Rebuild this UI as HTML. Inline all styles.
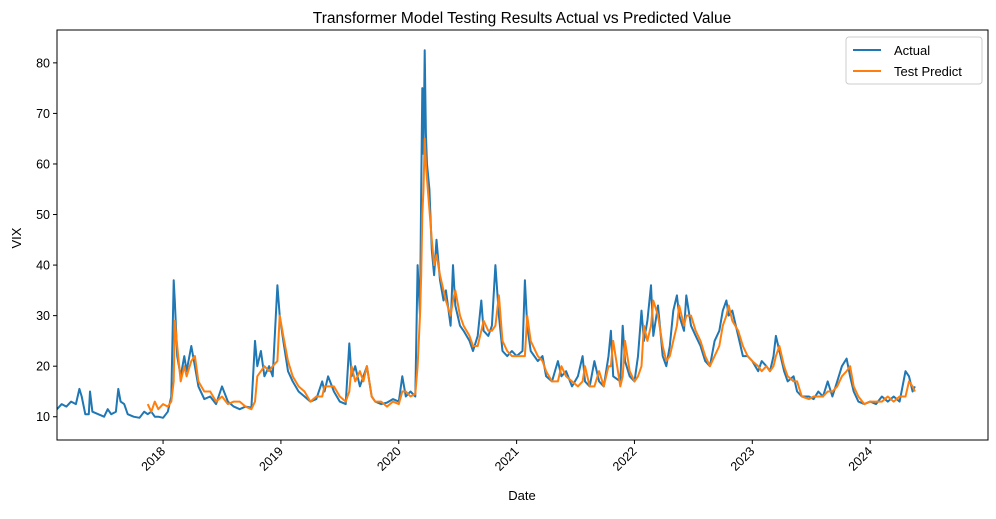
<!DOCTYPE html>
<html><head><meta charset="utf-8"><style>
body{margin:0;background:#fff;}
svg{font-family:"Liberation Sans","DejaVu Sans",sans-serif;}
</style></head><body>
<svg id="chart" width="996" height="514">
<text x="522" y="23" text-anchor="middle" font-size="15.5" fill="#000">Transformer Model Testing Results Actual vs Predicted Value</text>
<text x="21" y="238" text-anchor="middle" font-size="13" transform="rotate(-90 21 238)">VIX</text>
<text x="522" y="500" text-anchor="middle" font-size="13">Date</text>
<g id="ticks"></g>
<clipPath id="clip"><rect x="57" y="30" width="931" height="410"/></clipPath>
<g id="lines" clip-path="url(#clip)"></g>
<rect x="57" y="30" width="931" height="410" fill="none" stroke="#000" stroke-width="1"/>
<g>
<rect x="846" y="37" width="136" height="47" rx="3" fill="#fff" fill-opacity="0.8" stroke="#ccc"/>
<line x1="853" y1="50" x2="881" y2="50" stroke="#1f77b4" stroke-width="2"/>
<text x="894" y="55" font-size="13">Actual</text>
<line x1="853" y1="71" x2="881" y2="71" stroke="#ff7f0e" stroke-width="2"/>
<text x="894" y="76" font-size="13">Test Predict</text>
</g>
</svg>
<script>
const dates=[2017.10,2017.14,2017.18,2017.22,2017.26,2017.29,2017.31,2017.34,2017.37,2017.38,2017.40,2017.45,2017.50,2017.53,2017.56,2017.60,2017.62,2017.64,2017.67,2017.70,2017.75,2017.80,2017.84,2017.87,2017.90,2017.93,2017.96,2018.00,2018.04,2018.07,2018.09,2018.10,2018.12,2018.15,2018.18,2018.20,2018.24,2018.27,2018.30,2018.35,2018.40,2018.45,2018.50,2018.55,2018.60,2018.65,2018.70,2018.75,2018.78,2018.80,2018.83,2018.86,2018.90,2018.93,2018.97,2018.99,2019.02,2019.06,2019.10,2019.15,2019.20,2019.25,2019.30,2019.35,2019.37,2019.40,2019.45,2019.50,2019.55,2019.58,2019.60,2019.63,2019.67,2019.70,2019.73,2019.77,2019.80,2019.85,2019.90,2019.95,2020.00,2020.03,2020.06,2020.10,2020.14,2020.16,2020.18,2020.19,2020.20,2020.21,2020.22,2020.23,2020.24,2020.26,2020.28,2020.30,2020.32,2020.35,2020.38,2020.40,2020.44,2020.46,2020.48,2020.52,2020.55,2020.60,2020.63,2020.67,2020.70,2020.72,2020.76,2020.79,2020.82,2020.85,2020.88,2020.92,2020.96,2021.00,2021.05,2021.07,2021.09,2021.12,2021.18,2021.22,2021.25,2021.30,2021.35,2021.38,2021.42,2021.47,2021.52,2021.56,2021.58,2021.62,2021.66,2021.70,2021.74,2021.78,2021.80,2021.82,2021.88,2021.90,2021.92,2021.96,2022.00,2022.03,2022.06,2022.08,2022.11,2022.14,2022.16,2022.20,2022.24,2022.27,2022.30,2022.33,2022.36,2022.38,2022.42,2022.44,2022.48,2022.52,2022.56,2022.60,2022.64,2022.68,2022.72,2022.75,2022.78,2022.80,2022.83,2022.88,2022.92,2022.96,2023.00,2023.05,2023.08,2023.12,2023.15,2023.18,2023.20,2023.23,2023.27,2023.30,2023.35,2023.38,2023.42,2023.48,2023.52,2023.56,2023.60,2023.64,2023.68,2023.72,2023.76,2023.80,2023.83,2023.86,2023.90,2023.95,2024.00,2024.05,2024.10,2024.15,2024.20,2024.25,2024.30,2024.33,2024.36,2024.38];
const actual=[11.5,12.5,12,13,12.5,15.5,14,10.5,10.5,15,11,10.5,10,11.5,10.5,11,15.5,13,12.5,10.5,10,9.8,11,10.5,11,10,10,9.8,11,14,37,33,22,18,22,19,24,20,16,13.5,14,12.5,16,13,12,11.5,12,11.8,25,20,23,18,20,18,36,30,25,19,17,15,14,13,13.5,17,15,18,15,13,12.5,24.5,18,20,16,18,20,14,13,12.5,12.8,13.5,13,18,14,15,14,40,30,55,75,62,82.5,66,60,55,43,38,45,37,33,35,28,40,32,28,27,25,23,26,33,27,26,28,40,30,23,22,23,22,23,37,28,23,21,22,18,17,21,18,19,16,18,22,17,16,21,17,16,22,27,18,17,28,21,18,17,22,31,25,29,36,26,32,22,20,24,31,34,30,27,34,28,26,24,21,20,25,27,31,33,30,31,26,22,22,21,19,21,20,19,22,26,23,19,17,18,15,14,14,13.5,15,14,17,14,17,20,21.5,18,15,13,12.5,13,12.5,14,13,14,13,19,18,15,16];
const predicted=[null,null,null,null,null,null,null,null,null,null,null,null,null,null,null,null,null,null,null,null,null,null,null,12.5,11,13,11.5,12.5,12,13,17,29,24,17,20,18,21,22,17,15,15,13,14,12.5,13,13,12,11.5,13,18,19,20,19,20,21,30,26,21,18,16,15,13,14,14,16,16,16,14,13,15,20,17,19,17,20,14,13,13,12,13,12.5,15,15,14,14.5,20,30,38,50,55,65,60,57,51,45,40,42,38,35,33,30,33,35,30,28,26,24,24,27,29,27,27,28,34,25,23,22,22,22,22,30,25,22,21,19,17,17,20,18,17,16,17,20,16,16,19,16,20,20,25,16,18,25,19,17,18,20,28,25,28,33,30,24,21,22,25,28,32,28,30,30,27,25,22,20,22,24,28,30,32,29,27,24,22,21,20,19,20,19,20,22,24,20,18,17,17,14,13.5,14,14,14,15,15,16,18,19,20,16,14,12.5,13,13,13,14,13,14,14,17,16,15];
const yTicks=[10,20,30,40,50,60,70,80];
const xTicks=[2018,2019,2020,2021,2022,2023,2024];

const X0=57,X1=988,Y0=30,Y1=440,yr0=2017.1,yr1=2025.0;
const vLo=5.4,vHi=86.5;
const xs=d=>X0+(d-yr0)/(yr1-yr0)*(X1-X0);
const ys=v=>Y1-(v-vLo)/(vHi-vLo)*(Y1-Y0);
const NS="http://www.w3.org/2000/svg";
const tg=document.getElementById('ticks'),lg=document.getElementById('lines');
function mk(t,a,p){const e=document.createElementNS(NS,t);for(const k in a)e.setAttribute(k,a[k]);p.appendChild(e);return e;}
yTicks.forEach(v=>{
  const y=ys(v);
  const l=mk('line',{x1:X0-4,x2:X0,y1:y,y2:y,stroke:'#000'},tg);
  
  
  const t=mk('text',{x:X0-7,y:y+4.5,'text-anchor':'end','font-size':'12.5'},tg);
  t.textContent=v;
  
  
});
xTicks.forEach(d=>{
  const x=xs(d);
  const l=mk('line',{x1:x,x2:x,y1:Y1,y2:Y1+4,stroke:'#000'},tg);
  
  
  const t=mk('text',{x:x+3,y:Y1+12,'text-anchor':'end','font-size':'12.5',transform:`rotate(-45 ${x+3} ${Y1+12})`},tg);
  t.textContent=d;
  
  
});
function path(vals,color,name){
  let d='';let pen=false;
  vals.forEach((v,i)=>{if(v==null){pen=false;return;}d+=(pen?'L':'M')+xs(dates[i]).toFixed(1)+','+ys(v).toFixed(1);pen=true;});
  const p=mk('path',{d:d,fill:'none',stroke:color,'stroke-width':2,'stroke-linejoin':'round'},lg);
  
  
}
path(actual,'#1f77b4','actual-line');
path(predicted,'#ff7f0e','predicted-line');
</script>
</body></html>
